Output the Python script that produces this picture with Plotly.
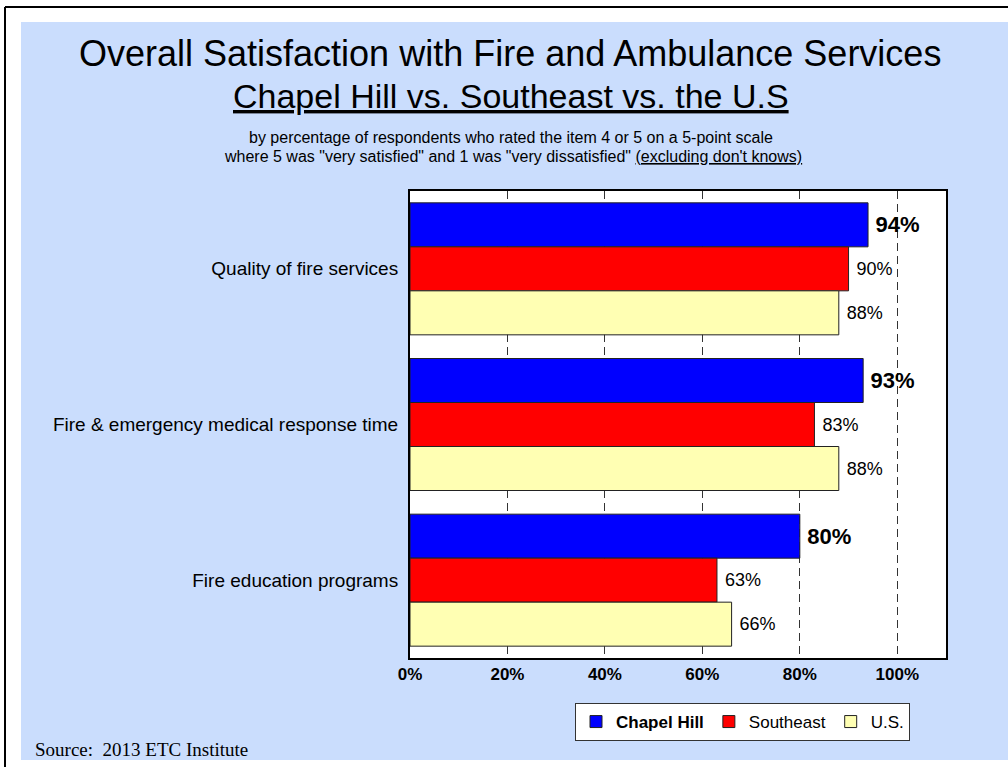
import plotly.graph_objects as go

categories = ["Quality of fire services", "Fire & emergency medical response time", "Fire education programs"]
chapel_hill = [94, 93, 80]
southeast = [90, 83, 63]
us = [88, 88, 66]
series_names = ["<b>Chapel Hill</b>", "Southeast", "U.S."]
x_ticks = [0, 20, 40, 60, 80, 100]
x_tick_labels = ["0%", "20%", "40%", "60%", "80%", "100%"]

FONT = "Liberation Sans, Arial, sans-serif"
W, H = 1008, 767
L, R, T, B = 410, 946, 191, 658
PW, PH = R - L, B - T


def px(x):
    return (x - L) / PW


def py(y):
    return (B - y) / PH


fig = go.Figure()
colors = ["#0000FF", "#FF0000", "#FFFFB3"]
vals = [chapel_hill, southeast, us]
for i, (name, v, c) in enumerate(zip(series_names, vals, colors)):
    if i == 0:
        labels = [f"\u2009<b>{val}%</b>" for val in v]
        tf = dict(size=22, color="black", family=FONT)
    else:
        labels = [f"\u00a0{val}%" for val in v]
        tf = dict(size=18, color="black", family=FONT)
    fig.add_trace(go.Bar(
        y=categories, x=v, name=name, orientation="h",
        marker=dict(color=c, line=dict(color="#222222", width=1)),
        text=labels, textposition="outside", textfont=tf,
        constraintext="none", cliponaxis=False, hoverinfo="skip",
    ))

shapes = [
    dict(type="rect", xref="paper", yref="paper", x0=px(21), x1=px(1010), y0=py(760), y1=py(22),
         fillcolor="#CADDFD", line=dict(width=0), layer="below"),
    dict(type="rect", xref="paper", yref="paper", x0=0, x1=1, y0=0, y1=1,
         fillcolor="white", line=dict(width=0), layer="below"),
    dict(type="line", xref="paper", yref="paper", x0=px(5), x1=px(1010), y0=py(7), y1=py(7),
         line=dict(color="black", width=2)),
    dict(type="line", xref="paper", yref="paper", x0=px(5), x1=px(5), y0=py(7), y1=py(770),
         line=dict(color="black", width=2)),
]

annotations = [
    dict(text="Overall Satisfaction with Fire and Ambulance Services", x=px(510), y=py(53),
         font=dict(size=36, family=FONT, color="black")),
    dict(text="<u>Chapel Hill vs. Southeast vs. the U.S</u>", x=px(511), y=py(96),
         font=dict(size=34, family=FONT, color="black")),
    dict(text="by percentage of respondents who rated the item 4 or 5 on a 5-point scale", x=px(511), y=py(137),
         font=dict(size=16, family=FONT, color="black")),
    dict(text='where 5 was "very satisfied" and 1 was "very dissatisfied" <u>(excluding don\'t knows)</u>',
         x=px(513), y=py(156), font=dict(size=16, family=FONT, color="black")),
    dict(text="Source:\u00a0 2013 ETC Institute", x=px(33), y=py(749), xanchor="left",
         font=dict(size=19, family="Liberation Serif, Times New Roman, serif", color="black")),
]
for a in annotations:
    a.update(xref="paper", yref="paper", showarrow=False)
    a.setdefault("xanchor", "center")
    a["yanchor"] = "middle"

fig.update_layout(
    width=W, height=H,
    margin=dict(l=L, r=W - R, t=T, b=H - B, pad=0),
    paper_bgcolor="white", plot_bgcolor="white",
    barmode="group", bargap=0.152, bargroupgap=0,
    font=dict(family=FONT, color="black"),
    shapes=shapes, annotations=annotations,
    showlegend=True,
    legend=dict(orientation="h", x=px(575), y=py(703), xanchor="left", yanchor="top",
                bgcolor="white", bordercolor="#333333", borderwidth=1,
                font=dict(size=17, family=FONT, color="black"),
                traceorder="normal", itemwidth=30, tracegroupgap=0),
    xaxis=dict(range=[0, 110], tickvals=x_ticks, ticktext=x_tick_labels,
               tickfont=dict(size=17, family=FONT, color="black", weight="bold"),
               showgrid=True, gridcolor="#333333", gridwidth=1, griddash="8px,5px",
               zeroline=False, showline=True, linecolor="black", linewidth=2, mirror=True,
               ticks="", fixedrange=True),
    yaxis=dict(autorange="reversed", tickfont=dict(size=19, family=FONT, color="black"),
               showline=True, linecolor="black", linewidth=2, mirror=True,
               ticks="", ticklabelstandoff=6, showgrid=False, fixedrange=True),
)

fig.write_html("out.html", config={"displayModeBar": False},
               post_script="document.body.style.margin='0';")
